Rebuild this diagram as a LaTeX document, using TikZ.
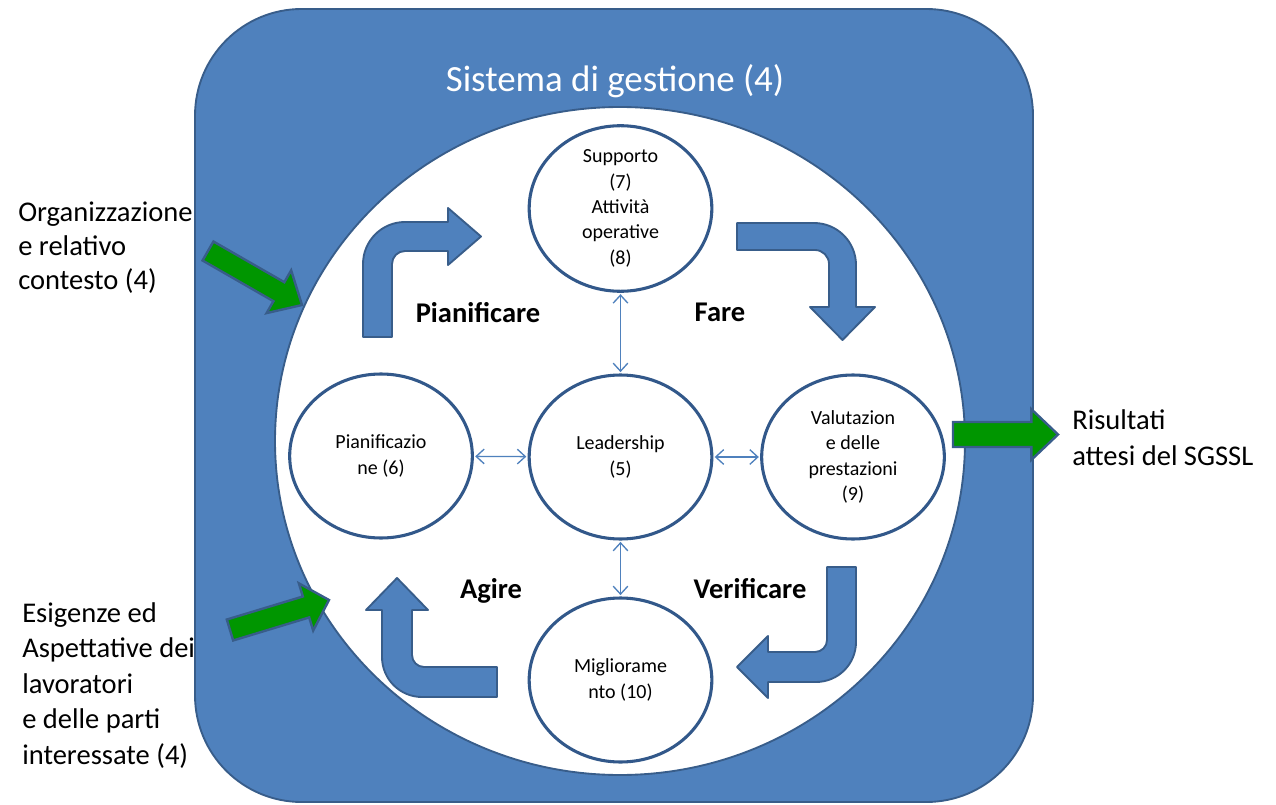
\documentclass[tikz,border=0pt]{standalone}
\usepackage{fontspec}
\setmainfont{Carlito}
\usetikzlibrary{shapes.geometric,arrows.meta,calc}
\definecolor{fillblue}{RGB}{79,129,189}
\definecolor{lineblue}{RGB}{56,93,138}
\definecolor{ringblue}{RGB}{50,88,138}
\definecolor{arrowgreen}{RGB}{0,150,0}

% straight block arrow: #1 tail, #2 tip, #3 half shaft width, #4 half head width, #5 head length
\newcommand\blockarrow[5]{%
  \coordinate (ba-base) at ($(#2)!#5!(#1)$);
  \draw[greenarrow] ($(#1)!#3!90:(#2)$) -- ($(ba-base)!#3!90:(#2)$) -- ($(ba-base)!#4!90:(#2)$)
    -- (#2) -- ($(ba-base)!#4!-90:(#2)$) -- ($(ba-base)!#3!-90:(#2)$) -- ($(#1)!#3!-90:(#2)$) -- cycle;
}

\begin{document}
\begin{tikzpicture}[x=0.75pt,y=-0.75pt,
  phase/.style={ellipse, draw=ringblue, line width=2.3pt, fill=white,
    minimum width=137pt, minimum height=123pt, inner sep=0pt, align=center,
    font=\fontsize{15}{19}\selectfont},
  link/.style={draw=fillblue, line width=1pt,
    {Straight Barb[length=6pt,width=11pt]}-{Straight Barb[length=6pt,width=11pt]},
    shorten <=1pt, shorten >=1pt},
  bent/.style={fill=fillblue, draw=lineblue, line width=1.4pt, line join=round},
  cycleword/.style={font=\fontsize{21.4}{25}\selectfont\bfseries},
  sidetext/.style={align=left, inner sep=0pt, anchor=base west},
  greenarrow/.style={fill=arrowgreen, draw=lineblue, line width=1.8pt}]

\useasboundingbox (0,0) rectangle (1276,805);

% management system frame and inner field
\path[fill=fillblue, draw=lineblue, line width=1.4pt, rounded corners=80pt]
  (195,9) rectangle (1033,802);
\path[fill=white, draw=lineblue, line width=1.4pt]
  (620,441) ellipse [x radius=258.75pt, y radius=250.5pt];

\node[font=\fontsize{27.7}{32}\selectfont, text=white, anchor=base] (title) at (615,92)
  {Sistema di gestione (4)};

% inputs and output
\coordinate (in1tail) at (208,251);
\coordinate (in1tip) at (302,305);
\coordinate (in2tail) at (230,630);
\coordinate (in2tip) at (329,600);
\coordinate (outtail) at (953,434.5);
\coordinate (outtip) at (1058,434.5);
\blockarrow{in1tail}{in1tip}{8.2pt}{18.5pt}{20pt}
\blockarrow{in2tail}{in2tip}{8.2pt}{18.5pt}{18pt}
\blockarrow{outtail}{outtip}{9.4pt}{19pt}{20pt}

% multi-line labels are placed by the baseline of their last line
\node[sidetext, font=\fontsize{21.4}{25.5}\selectfont] (context) at (18,290)
  {Organizzazione\\e relativo\\contesto (4)};
\node[sidetext, font=\fontsize{21.4}{26.6}\selectfont] (needs) at (22,764)
  {Esigenze ed\\Aspettative dei\\lavoratori\\e delle parti\\interessate (4)};
\node[sidetext, font=\fontsize{21.4}{26.3}\selectfont] (results) at (1072,465)
  {Risultati\\attesi del SGSSL};

% PDCA bent arrows
\path[bent] (363,337) -- (363,264) .. controls (363,240.8) and (381.8,222) .. (405,222)
  -- (448,222) -- (448,208) -- (481,236.5) -- (448,265) -- (448,251) -- (405,251)
  .. controls (397.8,251) and (392,256.8) .. (392,264) -- (392,337) -- cycle;
\path[bent] (737,223) -- (814,223) .. controls (837.2,223) and (856,241.8) .. (856,265)
  -- (856,307) -- (875,307) -- (842.5,340) -- (810,307) -- (829,307) -- (829,264)
  .. controls (829,256.3) and (822.7,250) .. (815,250) -- (737,250) -- cycle;
\path[bent] (827,567) -- (856,567) -- (856,642) .. controls (856,664.1) and (838.1,682) .. (816,682)
  -- (768,682) -- (768,698) -- (737,667) -- (768,636) -- (768,652) -- (815,652)
  .. controls (821.6,652) and (827,646.6) .. (827,640) -- cycle;
\path[bent] (497,667) -- (424,667) .. controls (417.4,667) and (412,661.6) .. (412,655)
  -- (412,610) -- (428,610) -- (397,578) -- (366,610) -- (382,610) -- (382,657)
  .. controls (382,679.1) and (399.9,697) .. (422,697) -- (497,697) -- cycle;

\node[cycleword] (plan) at (478,313) {Pianificare};
\node[cycleword] (do) at (720,312) {Fare};
\node[cycleword] (check) at (750,589) {Verificare};
\node[cycleword] (act) at (491,591) {Agire};

% clauses
\node[phase] (sup) at (620.5,208.5) {Supporto\\(7)\\Attività\\operative\\(8)};
\node[phase] (pln) at (381,456) {Pianificazio\\ne (6)};
\node[phase] (lead) at (620.5,457) {Leadership\\(5)};
\node[phase] (val) at (853,457) {Valutazion\\e delle\\prestazioni\\(9)};
\node[phase] (imp) at (620.5,680) {Migliorame\\nto (10)};

\draw[link] (lead) -- (sup);
\draw[link] (lead) -- (pln);
\draw[link] (lead) -- (val);
\draw[link] (lead) -- (imp);

\end{tikzpicture}
\end{document}
